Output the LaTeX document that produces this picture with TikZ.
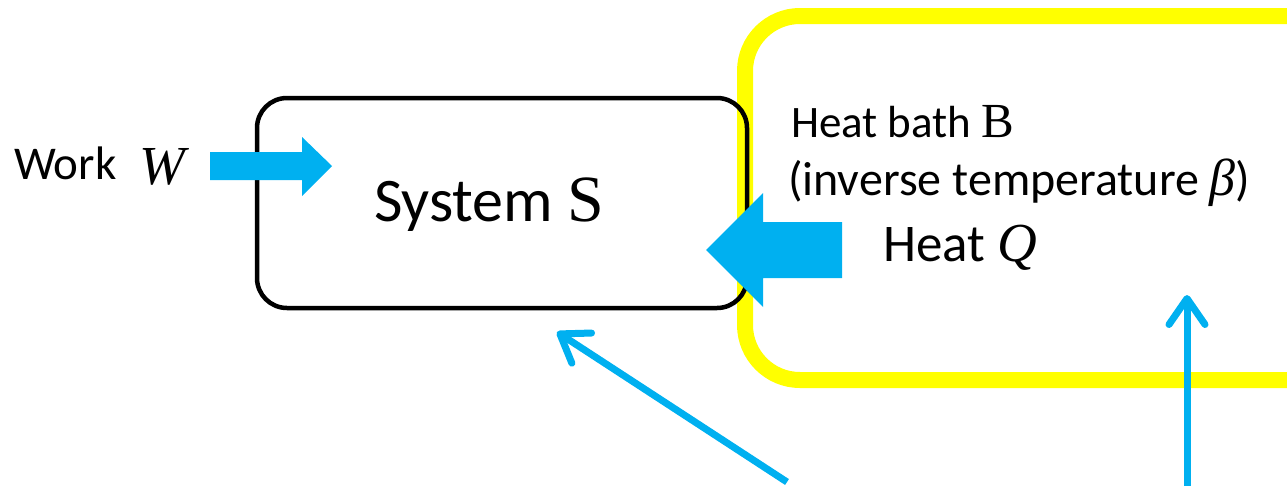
\documentclass[tikz,border=0pt]{standalone}
\usepackage{fontspec}
\setmainfont{Carlito}
\newfontfamily\mserif{Liberation Serif}
\usetikzlibrary{arrows.meta}
\definecolor{cyanb}{HTML}{00B0F0}
\definecolor{bathy}{HTML}{FFFF00}
\tikzset{
  blockarrow/.style={fill=cyanb, draw=none},
  thinarrow/.style={draw=cyanb, line width=7pt, -{Straight Barb[length=26pt,width=36pt,line cap=round,line join=round]}},
  lbl/.style={anchor=base west, inner sep=0pt, outer sep=0pt},
}
\newcommand{\fs}[1]{\fontsize{#1}{#1}\selectfont}
\begin{document}
\begin{tikzpicture}[x=1pt,y=-1pt]
\useasboundingbox (0,0) rectangle (1287,485);
\clip (0,0) rectangle (1287,485);
% heat bath
\draw[bathy, line width=16pt, rounded corners=55pt] (745,16) rectangle (1380,380);
% system box
\node[draw=black, line width=4.5pt, rounded corners=30pt, minimum width=490pt, minimum height=210pt, inner sep=0pt] (sys) at (502,203) {};
% texts
\node[lbl] (work) at (14,179) {\fs{47}Work};
\node[lbl] (wsym) at (139,184) {\fs{55}\mserif\itshape W};
\node[lbl] (systxt) at (374,221) {\fs{62}System \mserif\fs{66}S};
\node[lbl] (bath) at (791,137) {\fs{45}Heat bath {\mserif\fs{49}B}};
\node[lbl] (invt) at (788,195) {\fs{48}(inverse temperature {\mserif\itshape\fs{52}β})};
\node[lbl] (heat) at (883,261) {\fs{53}Heat {\mserif\itshape\fs{55}Q}};
% block arrows
\path[blockarrow] (210,152) -- (302,152) -- (302,137) -- (332,166) -- (302,196) -- (302,180) -- (210,180) -- cycle;
\path[blockarrow] (842,222) -- (763,222) -- (763,193) -- (706,250) -- (763,307) -- (763,278) -- (842,278) -- cycle;
% thin arrows
\coordinate (t1) at (787,482);
\coordinate (h1) at (557,332);
\coordinate (t2) at (1187,490);
\coordinate (h2) at (1187,295);
\draw[thinarrow] (t1) -- (h1);
\draw[thinarrow] (t2) -- (h2);
\end{tikzpicture}
\end{document}
